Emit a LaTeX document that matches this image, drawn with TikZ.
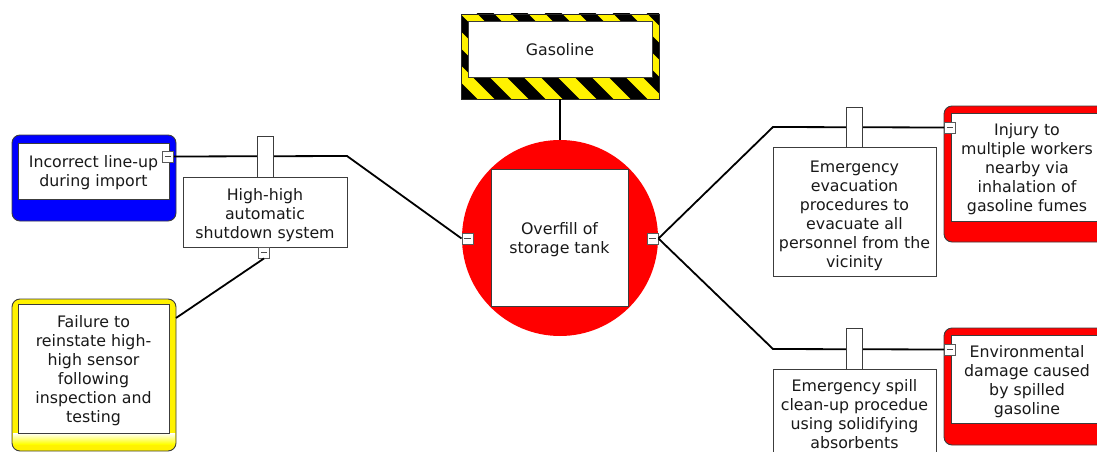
\documentclass[tikz,border=0pt]{standalone}
\usepackage{fontspec}
\setmainfont{DejaVu Sans}
\usetikzlibrary{calc}
\definecolor{txt}{RGB}{25,25,25}
\definecolor{edge}{RGB}{60,60,60}
\tikzset{
  box/.style={draw=edge, line width=0.9pt, fill=white, inner sep=0pt},
  lbl/.style={inner sep=0pt, align=center, text=txt},
  frame/.style={draw=edge, line width=0.9pt, rounded corners=8pt, inner sep=0pt},
  tabbox/.style={draw=edge, line width=0.9pt, fill=white, minimum width=16pt, inner sep=0pt},
  minusbox/.style={draw=black!65, fill=white, line width=0.9pt, minimum size=11pt, inner sep=0pt,
    path picture={\draw[black!70, line width=1.2pt] ($(path picture bounding box.center)+(-3.2,0)$) -- ($(path picture bounding box.center)+(3.2,0)$);}},
  link/.style={line width=1.8pt, black}
}
\begin{document}
\begin{tikzpicture}[x=1pt,y=-1pt, font=\fontsize{15.8}{19}\selectfont]
\useasboundingbox (0,0) rectangle (1097,452);
\clip (0,0) rectangle (1097,452);

% hazard (Gasoline)
\begin{scope}
  \clip (461,14) rectangle (659,99);
  \fill[yellow] (461,14) rectangle (659,99);
  \foreach \i in {0,...,11} \draw[line width=12pt, black] ({336+\i*34},0) -- ({336+\i*34+130},130);
\end{scope}
\node[draw=black!85, line width=0.9pt, minimum width=198pt, minimum height=85pt, inner sep=0pt] (gasframe) at (560,56.5) {};
\node[box, minimum width=184pt, minimum height=56pt] (gas) at (560,49) {};
\node[lbl] (gast) at ($(gas.center)+(0,1)$) {Gasoline};

% top event
\node[circle, fill=red, minimum size=196pt, inner sep=0pt] (top) at (560,238) {};
\node[box, minimum width=137pt, minimum height=137pt] (event) at (559.5,237.5) {};
\node[lbl] (eventt) at ($(event.center)+(0,2)$) {Overfill of\\storage tank};
\draw[link] (gasframe.south) -- (top.north);

% threats
\node[frame, fill=blue, minimum width=164pt, minimum height=86pt] (tB) at (94,178) {};
\node[box, minimum width=151pt, minimum height=56pt] (tBin) at (93.5,171) {};
\node[lbl] (tBt) at ($(tBin.center)+(0,2)$) {Incorrect line-up\\during import};

\node[frame, fill=yellow, minimum width=164pt, minimum height=152pt] (tY) at (94,375) {};
\shade[top color=white, bottom color=yellow] (13,433) rectangle (175,444);
\node[box, minimum width=151pt, minimum height=129pt] (tYin) at (93.5,368.5) {};
\node[lbl] (tYt) at ($(tYin.center)+(0,2.5)$) {Failure to\\reinstate high-\\high sensor\\following\\inspection and\\testing};

% consequences
\node[frame, fill=red, minimum width=166pt, minimum height=136pt] (c1) at (1027,174) {};
\node[box, minimum width=152pt, minimum height=108pt] (c1in) at (1027,167) {};
\node[lbl] (c1t) at ($(c1in.center)+(0,2)$) {Injury to\\multiple workers\\nearby via\\inhalation of\\gasoline fumes};
\node[frame, fill=red, minimum width=166pt, minimum height=117pt] (c2) at (1027,386.5) {};
\node[box, minimum width=152pt, minimum height=88pt] (c2in) at (1027,379) {};
\node[lbl] (c2t) at ($(c2in.center)+(0,3)$) {Environmental\\damage caused\\by spilled\\gasoline};

% barriers
\node[box, minimum width=164pt, minimum height=70pt] (bL) at (265,212) {};
\node[lbl] (bLt) at ($(bL.center)+(0,3.5)$) {High-high\\automatic\\shutdown system};
\node[box, minimum width=163pt, minimum height=129pt] (bR1) at (854.5,211.5) {};
\node[lbl] (bR1t) at ($(bR1.center)+(0,4.5)$) {Emergency\\evacuation\\procedures to\\evacuate all\\personnel from the\\vicinity};
\node[box, minimum width=163pt, minimum height=98pt] (bR2) at (854.5,418) {};
\node[lbl] (bR2t) at ($(bR2.center)+(0,-3.5)$) {Emergency spill\\clean-up procedue\\using solidifying\\absorbents};

% minus boxes
\node[minusbox] (mL) at (467.5,238.5) {};
\node[minusbox] (mR) at (652.5,238.5) {};
\node[minusbox] (mB) at (168,156.5) {};
\node[minusbox] (mbL) at (264,252.5) {};
\node[minusbox] (cR1) at (950,127.5) {};
\node[minusbox] (cR2) at (950,349.5) {};

% links
\coordinate (kL) at (347,156);
\coordinate (kR1) at (773,127);
\coordinate (kR2) at (773,349);
\coordinate (yEnd) at (176,318);
\draw[link] (mL.west) -- (kL) -- (mB.east);
\draw[link] (mbL.south) -- (yEnd);
\draw[link] (mR.east) -- (kR1) -- (cR1.west);
\draw[link] (mR.east) -- (kR2) -- (cR2.west);

% tabs
\node[tabbox, minimum height=41pt] (tabL) at (265.5,156.5) {};
\node[tabbox, minimum height=40pt] (tabR1) at (854,127) {};
\node[tabbox, minimum height=41pt] (tabR2) at (854,348.5) {};
\end{tikzpicture}
\end{document}
